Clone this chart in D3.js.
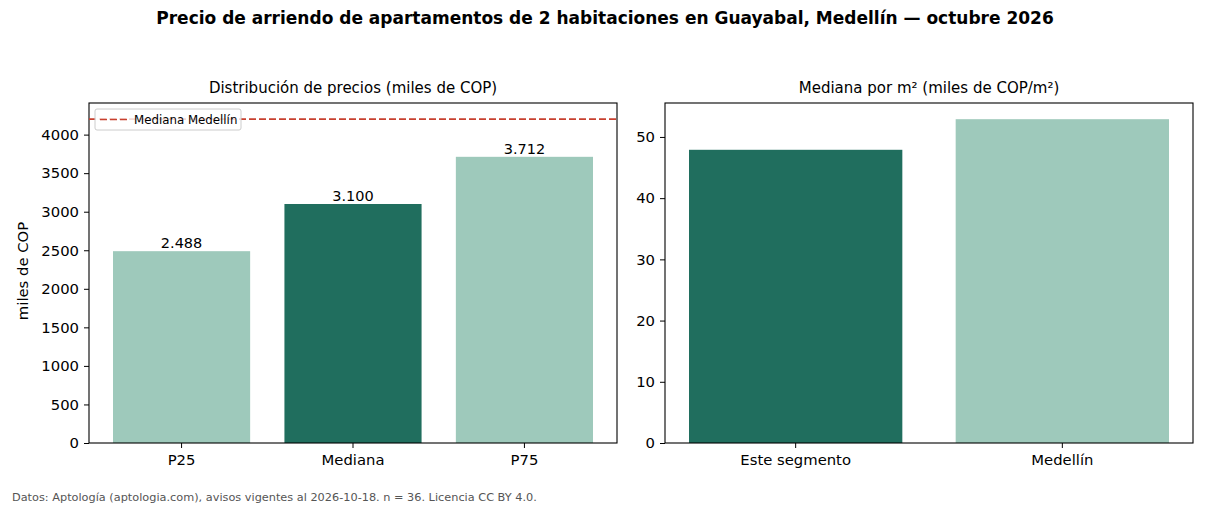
<!DOCTYPE html>
<html>
<head>
<meta charset="utf-8">
<script src="https://cdn.jsdelivr.net/npm/d3@7/dist/d3.min.js"></script>
<style>
  body { margin: 0; background: #fff; }
  svg { font-family: "DejaVu Sans", sans-serif; }
</style>
</head>
<body>
<svg width="1210" height="506"></svg>
<script>
// data
const priceLabels = ["P25", "Mediana", "P75"];
const priceValues = [2488, 3100, 3712];
const medianMedellin = 4200;
const m2Labels = ["Este segmento", "Medellín"];
const m2Values = [47.9, 52.9];
const priceTicks = [0, 500, 1000, 1500, 2000, 2500, 3000, 3500, 4000];
const m2Ticks = [0, 10, 20, 30, 40, 50];

const dark = "#206e5e", light = "#9ec9bb", red = "#c8402f";

const svg = d3.select("svg");

svg.append("text")
    .attr("x", 605).attr("y", 24)
    .attr("text-anchor", "middle")
    .style("font-size", "17px").style("font-weight", "bold")
    .text("Precio de arriendo de apartamentos de 2 habitaciones en Guayabal, Medellín — octubre 2026");

svg.append("text")
    .attr("x", 12).attr("y", 501)
    .style("font-size", "11.3px").style("fill", "#555")
    .text("Datos: Aptología (aptologia.com), avisos vigentes al 2026-10-18. n = 36. Licencia CC BY 4.0.");

// format number with dot thousands separator
function fmtDot(v) {
    return d3.format(",")(v).replace(/,/g, ".");
}

function panel(x0, x1, y0, y1, labels, values, colors, ymax, ticks, title, pad) {
    const g = svg.append("g");

    const x = d3.scaleBand().domain(labels).range([x0, x1])
        .paddingInner(0.2).paddingOuter(pad);
    const y = d3.scaleLinear().domain([0, ymax]).range([y1, y0]);

    g.selectAll("rect.bar")
        .data(values)
        .enter().append("rect")
            .attr("class", "bar")
            .attr("x", (d, i) => x(labels[i]))
            .attr("width", x.bandwidth())
            .attr("y", d => y(d))
            .attr("height", d => y1 - y(d))
            .style("fill", (d, i) => colors[i]);

    const yAxis = g.append("g")
        .attr("transform", "translate(" + x0 + ",0)")
        .call(d3.axisLeft(y).tickValues(ticks).tickFormat(d3.format("d"))
            .tickSizeOuter(0).tickPadding(5).tickSize(5));
    const xAxis = g.append("g")
        .attr("transform", "translate(0," + y1 + ")")
        .call(d3.axisBottom(x).tickSizeOuter(0).tickPadding(6).tickSize(5));

    [yAxis, xAxis].forEach(a => {
        a.selectAll("text").style("font-size", "14.8px").style("fill", "#000")
            .style("font-family", "DejaVu Sans, sans-serif");
        a.selectAll("line").style("stroke", "#000").style("stroke-width", 1);
        a.select(".domain").remove();
    });

    // frame
    g.append("rect")
        .attr("x", x0).attr("y", y0)
        .attr("width", x1 - x0).attr("height", y1 - y0)
        .style("fill", "none").style("stroke", "#000").style("stroke-width", 1.1);

    g.append("text")
        .attr("x", (x0 + x1) / 2).attr("y", y0 - 10)
        .attr("text-anchor", "middle")
        .style("font-size", "15px")
        .text(title);

    return { g, x, y };
}

// left panel
const left = panel(89, 617, 103, 443, priceLabels, priceValues, [light, dark, light],
    medianMedellin * 1.05, priceTicks, "Distribución de precios (miles de COP)", 0.14);

left.g.selectAll("text.val")
    .data(priceValues)
    .enter().append("text")
        .attr("class", "val")
        .attr("x", (d, i) => left.x(priceLabels[i]) + left.x.bandwidth() / 2)
        .attr("y", d => left.y(d) - 3)
        .attr("text-anchor", "middle")
        .style("font-size", "14.5px")
        .text(d => fmtDot(d));

left.g.append("line")
    .attr("x1", 89).attr("x2", 617)
    .attr("y1", left.y(medianMedellin)).attr("y2", left.y(medianMedellin))
    .style("stroke", red).style("stroke-width", 1.7)
    .style("stroke-dasharray", "7,3");

// legend
const leg = left.g.append("g").attr("transform", "translate(95,109)");
leg.append("rect")
    .attr("width", 146).attr("height", 21).attr("rx", 2)
    .style("fill", "#fff").style("fill-opacity", 0.8)
    .style("stroke", "#ccc").style("stroke-width", 1);
leg.append("line")
    .attr("x1", 5).attr("x2", 33).attr("y1", 10.5).attr("y2", 10.5)
    .style("stroke", red).style("stroke-width", 1.7)
    .style("stroke-dasharray", "7,3");
leg.append("text")
    .attr("x", 39).attr("y", 14.8)
    .style("font-size", "11.8px")
    .text("Mediana Medellín");

left.g.append("text")
    .attr("transform", "translate(28,271) rotate(-90)")
    .attr("text-anchor", "middle")
    .style("font-size", "14.8px")
    .text("miles de COP");

// right panel
panel(665, 1193, 103, 443, m2Labels, m2Values, [dark, light],
    m2Values[1] * 1.05, m2Ticks, "Mediana por m² (miles de COP/m²)", 0.09);
</script>
</body>
</html>
